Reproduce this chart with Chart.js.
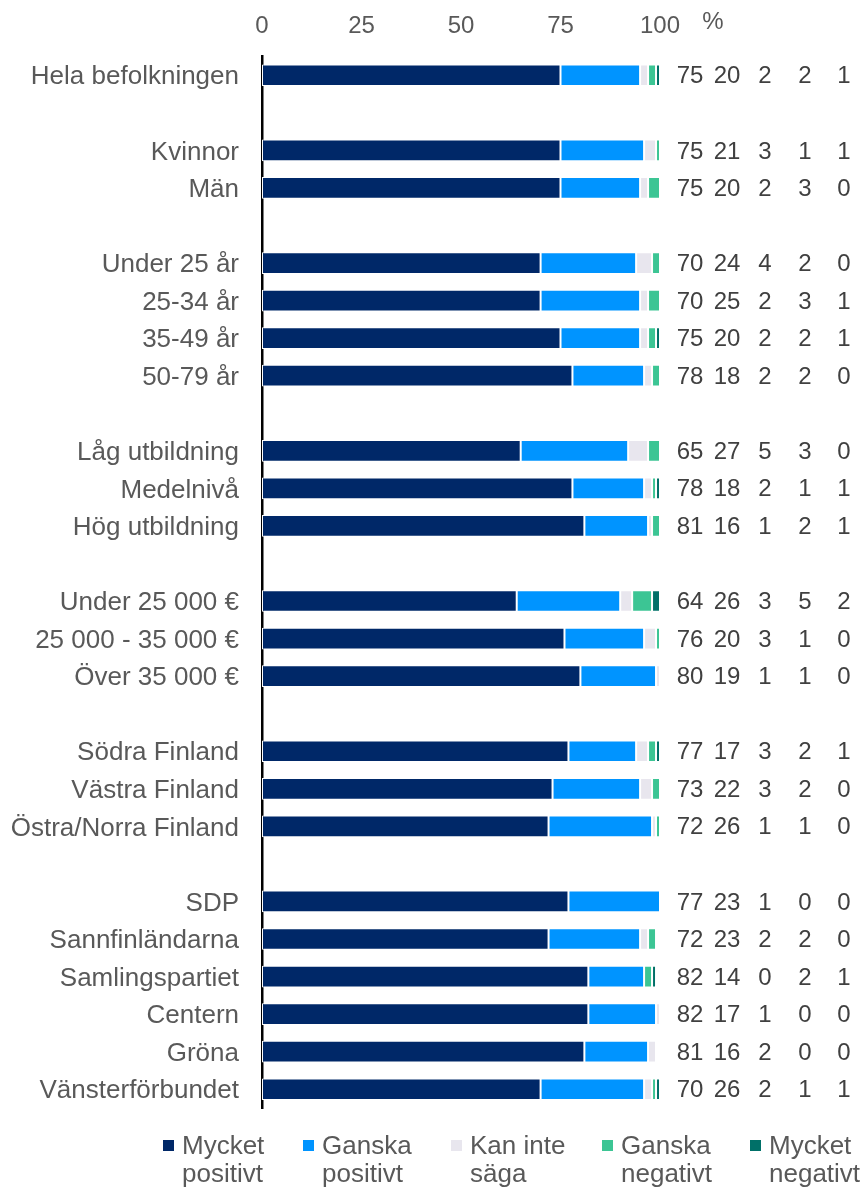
<!DOCTYPE html>
<html>
<head>
<meta charset="utf-8">
<script src="https://cdn.jsdelivr.net/npm/chart.js@4"></script>
<style>
    body { margin: 0; background: #fff; }
    #wrap { width: 861px; height: 1188px; position: relative; }
</style>
</head>
<body>
<div id="wrap"><canvas id="grafico"></canvas></div>
<script>
// kategorier (tomma rader skiljer grupperna åt)
const categories = [
    'Hela befolkningen', '',
    'Kvinnor', 'Män', '',
    'Under 25 år', '25-34 år', '35-49 år', '50-79 år', '',
    'Låg utbildning', 'Medelnivå', 'Hög utbildning', '',
    'Under 25 000 €', '25 000 - 35 000 €', 'Över 35 000 €', '',
    'Södra Finland', 'Västra Finland', 'Östra/Norra Finland', '',
    'SDP', 'Sannfinländarna', 'Samlingspartiet', 'Centern', 'Gröna', 'Vänsterförbundet'
];

const mycketPositivt = [75, null, 75, 75, null, 70, 70, 75, 78, null, 65, 78, 81, null, 64, 76, 80, null, 77, 73, 72, null, 77, 72, 82, 82, 81, 70];
const ganskaPositivt = [20, null, 21, 20, null, 24, 25, 20, 18, null, 27, 18, 16, null, 26, 20, 19, null, 17, 22, 26, null, 23, 23, 14, 17, 16, 26];
const kanInteSaga    = [2, null, 3, 2, null, 4, 2, 2, 2, null, 5, 2, 1, null, 3, 3, 1, null, 3, 3, 1, null, 1, 2, 0, 1, 2, 2];
const ganskaNegativt = [2, null, 1, 3, null, 2, 3, 2, 2, null, 3, 1, 2, null, 5, 1, 1, null, 2, 2, 1, null, 0, 2, 2, 0, 0, 1];
const mycketNegativt = [1, null, 1, 0, null, 0, 1, 1, 0, null, 0, 1, 1, null, 2, 0, 0, null, 1, 0, 0, null, 0, 0, 1, 0, 0, 1];

const xTicks = [0, 25, 50, 75, 100];
const legendLines = [['Mycket', 'positivt'], ['Ganska', 'positivt'], ['Kan inte', 'säga'], ['Ganska', 'negativt'], ['Mycket', 'negativt']];
const colors = ['#002868', '#0094FF', '#E8E6EE', '#3CC594', '#007068'];
const series = [mycketPositivt, ganskaPositivt, kanInteSaga, ganskaNegativt, mycketNegativt];

const FONT = "'Liberation Sans', Arial, sans-serif";
const TEXT = '#595959';

// siffrorna till höger om staplarna + "%"
const valuesPlugin = {
    id: 'values',
    afterDatasetsDraw(chart) {
        const ctx = chart.ctx;
        const area = chart.chartArea;
        const y = chart.scales.y;
        const offsets = [30, 67, 105, 145, 184];
        ctx.save();
        ctx.font = '24px ' + FONT;
        ctx.fillStyle = '#404040';
        ctx.textAlign = 'center';
        ctx.textBaseline = 'middle';
        categories.forEach(function (cat, i) {
            if (!cat) return;
            chart.data.datasets.forEach(function (ds, j) {
                ctx.fillText(String(ds.data[i]), area.right + offsets[j], y.getPixelForValue(i) + 1.5);
            });
        });
        ctx.fillStyle = TEXT;
        ctx.fillText('%', area.right + 53, 22);
        ctx.restore();
    }
};

// förklaring med två rader per post
const legendPlugin = {
    id: 'twoLineLegend',
    afterDraw(chart) {
        const ctx = chart.ctx;
        const boxX = [163, 303, 451, 602, 750];
        ctx.save();
        ctx.font = '26px ' + FONT;
        ctx.textBaseline = 'alphabetic';
        ctx.textAlign = 'left';
        chart.data.datasets.forEach(function (ds, j) {
            ctx.fillStyle = ds.backgroundColor;
            ctx.fillRect(boxX[j], 1140, 11, 11);
            ctx.fillStyle = TEXT;
            legendLines[j].forEach(function (line, k) {
                ctx.fillText(line, boxX[j] + 19, 1154 + k * 28);
            });
        });
        ctx.restore();
    }
};

new Chart(document.getElementById('grafico'), {
    type: 'bar',
    data: {
        labels: categories,
        datasets: series.map(function (values, j) {
            return {
                label: legendLines[j].join(' '),
                data: values,
                backgroundColor: colors[j],
                borderColor: '#ffffff',
                borderWidth: 1,
                borderSkipped: false,
                categoryPercentage: 0.76,
                barPercentage: 0.76
            };
        })
    },
    options: {
        indexAxis: 'y',
        responsive: true,
        maintainAspectRatio: false,
        animation: false,
        layout: { padding: { top: 0, left: 0, right: 201, bottom: 80 } },
        plugins: {
            legend: { display: false },
            tooltip: { enabled: false }
        },
        scales: {
            x: {
                position: 'top',
                stacked: true,
                min: 0,
                max: 100,
                afterBuildTicks: function (scale) {
                    scale.ticks = xTicks.map(function (v) { return { value: v }; });
                },
                afterFit: function (scale) { scale.height = 56.5; },
                grid: { display: false },
                border: { display: false },
                ticks: { font: { size: 24, family: FONT }, color: TEXT, padding: 7.5, maxRotation: 0 }
            },
            y: {
                stacked: true,
                afterFit: function (scale) { scale.width = 262; },
                grid: { display: false },
                border: { display: true, color: '#000000', width: 2.5 },
                ticks: { font: { size: 26, family: FONT }, color: TEXT, padding: 15, labelOffset: 2, autoSkip: false }
            }
        }
    },
    plugins: [valuesPlugin, legendPlugin]
});
</script>
</body>
</html>
